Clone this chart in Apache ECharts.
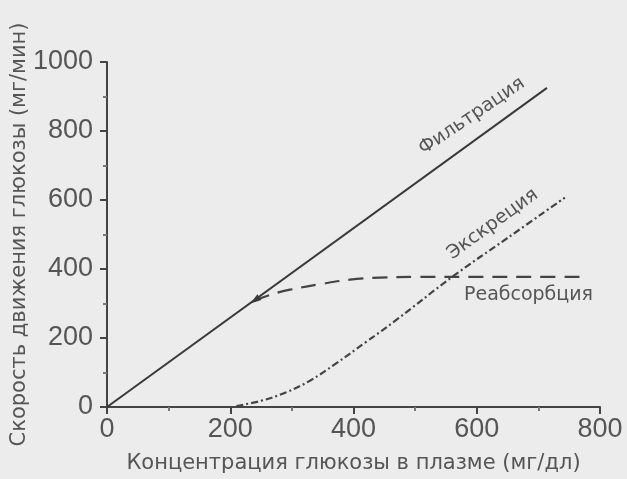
<!DOCTYPE html>
<html>
<head>
<meta charset="utf-8">
<script src="https://cdn.jsdelivr.net/npm/echarts@6/dist/echarts.min.js"></script>
<style>
  html, body { margin: 0; padding: 0; background: #ececec; }
  #chart { width: 627px; height: 479px; }
</style>
</head>
<body>
<div id="chart"></div>
<script>
// Glucose handling by the kidney: [plasma concentration (mg/dl), flow rate (mg/min)]
const filtration = [[0, 0], [714, 925]];
const reabsorption = [[240, 309], [270, 328], [297, 340], [346, 356], [394, 369], [443, 375], [500, 377], [600, 377], [700, 377], [781, 377]];
const excretion = [[210, 3], [250, 18], [290, 42], [330, 77], [370, 124], [420, 188], [470, 253], [560, 377], [650, 490], [743, 607]];

const xTicks = [0, 200, 400, 600, 800];
const yTicks = [0, 200, 400, 600, 800, 1000];

const xName = 'Концентрация глюкозы в плазме (мг/дл)';
const yName = 'Скорость движения глюкозы (мг/мин)';

const seriesNames = ['Фильтрация', 'Реабсорбция', 'Экскреция'];
// label anchors in data coordinates
const labelAt = {
  'Фильтрация': [592, 843],
  'Экскреция': [626, 530],
  'Реабсорбция': [684, 324]
};

const ink = '#444444';
const textInk = '#555555';
const numFont = 'Liberation Sans';
const textFont = 'DejaVu Sans';

function lineLabel(name, rotate) {
  return {
    silent: true,
    animation: false,
    symbol: 'circle',
    symbolSize: 0,
    data: [{
      coord: labelAt[name],
      label: {
        show: true,
        position: 'inside',
        formatter: name,
        rotate: rotate,
        color: textInk,
        fontFamily: textFont,
        fontSize: 19
      }
    }]
  };
}

function axisBase(ticks, name, gap, labelMargin) {
  return {
    type: 'value',
    min: ticks[0],
    max: ticks[ticks.length - 1],
    interval: 200,
    name: name,
    nameLocation: 'middle',
    nameGap: gap,
    nameMoveOverlap: false,
    nameTextStyle: { color: textInk, fontSize: 21, fontFamily: textFont },
    axisLine: { show: true, lineStyle: { color: ink, width: 2 } },
    axisTick: { show: true, inside: false, length: 7, lineStyle: { color: ink, width: 2 } },
    minorTick: { show: true, splitNumber: 2, length: 4, lineStyle: { color: '#777', width: 2 } },
    splitLine: { show: false },
    axisLabel: {
      color: textInk,
      fontSize: 27,
      margin: labelMargin,
      fontFamily: numFont,
      formatter: v => String(v)
    }
  };
}

const chart = echarts.init(document.getElementById('chart'), null, { renderer: 'canvas' });

chart.setOption({
  animation: false,
  backgroundColor: '#ececec',
  textStyle: { fontFamily: textFont },
  grid: { left: 107, right: 27, top: 62, bottom: 68.5, containLabel: false },
  xAxis: axisBase(xTicks, xName, 46, 9),
  yAxis: axisBase(yTicks, yName, 77, 14),
  series: [
    {
      name: seriesNames[0],
      type: 'line',
      data: filtration,
      showSymbol: false,
      lineStyle: { color: '#3a3a3a', width: 2 },
      markPoint: lineLabel('Фильтрация', 34)
    },
    {
      name: seriesNames[1],
      type: 'line',
      data: reabsorption,
      smooth: 0.4,
      showSymbol: false,
      lineStyle: { color: '#444', width: 2.2, type: [15, 9] },
      markPoint: {
        silent: true,
        animation: false,
        data: [
          {
            coord: reabsorption[0],
            symbol: 'triangle',
            symbolSize: [7, 11],
            symbolRotate: 125,
            itemStyle: { color: '#3a3a3a' },
            label: { show: false }
          },
          {
            coord: labelAt['Реабсорбция'],
            symbol: 'circle',
            symbolSize: 0,
            label: {
              show: true,
              position: 'inside',
              formatter: 'Реабсорбция',
              color: textInk,
              fontFamily: textFont,
              fontSize: 19
            }
          }
        ]
      }
    },
    {
      name: seriesNames[2],
      type: 'line',
      data: excretion,
      smooth: 0.4,
      showSymbol: false,
      lineStyle: { color: '#444', width: 2.2, type: [7, 3, 2, 3] },
      markPoint: lineLabel('Экскреция', 36)
    }
  ]
});
</script>
</body>
</html>
